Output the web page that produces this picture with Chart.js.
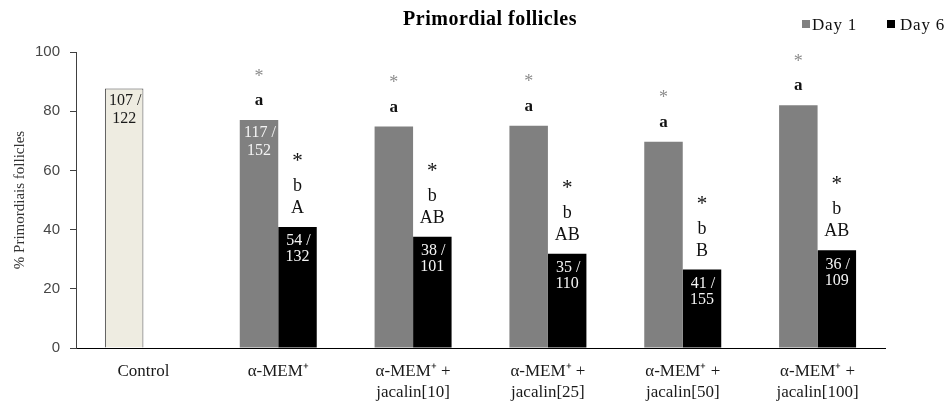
<!DOCTYPE html>
<html>
<head>
<meta charset="utf-8">
<script src="https://cdn.jsdelivr.net/npm/chart.js@4/dist/chart.umd.min.js"></script>
<style>
  html, body { margin: 0; padding: 0; background: #fff; }
  canvas { display: block; }
</style>
</head>
<body>
<canvas id="c" width="951" height="403"></canvas>
<script>
// ---- Data ----
const categories = [
  'Control',
  'α-MEM⁺',
  ['α-MEM⁺ +', 'jacalin[10]'],
  ['α-MEM⁺ +', 'jacalin[25]'],
  ['α-MEM⁺ +', 'jacalin[50]'],
  ['α-MEM⁺ +', 'jacalin[100]']
];
const seriesNames = ['Day 1', 'Day 6'];
const day1Values = [87.7, 77.0, 74.8, 75.1, 69.7, 82.0];
const day6Values = [null, 40.9, 37.6, 31.8, 26.5, 33.0];
const yTicks = [0, 20, 40, 60, 80, 100];

const day1Counts = [['107 /', '122'], ['117 /', '152'], null, null, null, null];
const day6Counts = [null, ['54 /', '132'], ['38 /', '101'], ['35 /', '110'], ['41 /', '155'], ['36 /', '109']];
const day1Stars = ['', '*', '*', '*', '*', '*'];
const day1Letters = ['', 'a', 'a', 'a', 'a', 'a'];
const day6Stars = ['', '*', '*', '*', '*', '*'];
const day6Lower = ['', 'b', 'b', 'b', 'b', 'b'];
const day6Upper = ['', 'A', 'AB', 'AB', 'B', 'AB'];

// ---- Styles ----
const GRAY = '#808080';
const BLACK = '#000000';
const CONTROL_FILL = '#EEECE1';
const SERIF = '"Liberation Serif", "Times New Roman", serif';
const SANS = '"Liberation Sans", Arial, sans-serif';

function drawInk(ctx, text, x, cy) {
  const m = ctx.measureText(text);
  const asc = m.actualBoundingBoxAscent, desc = m.actualBoundingBoxDescent;
  ctx.fillText(text, x, cy + (asc - desc) / 2);
}

const annotatePlugin = {
  id: 'annotate',
  afterDatasetsDraw(chart) {
    const ctx = chart.ctx;
    ctx.save();
    ctx.textAlign = 'center';
    ctx.textBaseline = 'alphabetic';
    const m1 = chart.getDatasetMeta(0).data;
    const m2 = chart.getDatasetMeta(1).data;
    m1.forEach((bar, i) => {
      if (day1Values[i] == null) return;
      const top = bar.y;
      const x = bar.x;
      if (day1Counts[i]) {
        ctx.font = '16px ' + SERIF;
        ctx.fillStyle = i === 0 ? '#1a1a1a' : '#f4f4f4';
        drawInk(ctx, day1Counts[i][0], x + 1, top + 11);
        drawInk(ctx, day1Counts[i][1], x, top + 29);
      }
      if (day1Letters[i]) {
        ctx.font = 'bold 17px ' + SERIF;
        ctx.fillStyle = '#111';
        drawInk(ctx, day1Letters[i], x, top - 19);
      }
      if (day1Stars[i]) {
        ctx.font = '18px ' + SERIF;
        ctx.fillStyle = '#8c8c8c';
        drawInk(ctx, day1Stars[i], x, top - 48);
      }
    });
    m2.forEach((bar, i) => {
      if (day6Values[i] == null) return;
      const top = bar.y;
      const x = bar.x;
      if (day6Counts[i]) {
        ctx.font = '16px ' + SERIF;
        ctx.fillStyle = '#f4f4f4';
        drawInk(ctx, day6Counts[i][0], x + 1, top + 13);
        drawInk(ctx, day6Counts[i][1], x, top + 29);
      }
      ctx.fillStyle = '#111';
      ctx.font = '18px ' + SERIF;
      if (day6Upper[i]) drawInk(ctx, day6Upper[i], x, top - 20.5);
      if (day6Lower[i]) drawInk(ctx, day6Lower[i], x, top - 42.5);
      ctx.font = '21px ' + SERIF;
      if (day6Stars[i]) drawInk(ctx, day6Stars[i], x, top - 70);
    });
    ctx.restore();
  },
  afterDraw(chart) {
    const ctx = chart.ctx;
    ctx.save();
    // Title
    ctx.font = 'bold 20px ' + SERIF;
    ctx.letterSpacing = '0.5px';
    ctx.fillStyle = '#000';
    ctx.textAlign = 'center';
    ctx.textBaseline = 'alphabetic';
    ctx.fillText('Primordial follicles', 490, 25);
    // Legend
    ctx.textAlign = 'left';
    ctx.font = '17px ' + SERIF;
    ctx.letterSpacing = '0.8px';
    const legendColors = [GRAY, BLACK];
    const boxX = [802, 887];
    const textX = [812, 900];
    seriesNames.forEach((name, k) => {
      ctx.fillStyle = legendColors[k];
      ctx.fillRect(boxX[k], 20, 8, 8);
      ctx.fillStyle = '#111';
      ctx.fillText(name, textX[k], 30);
    });
    ctx.restore();
  }
};

new Chart(document.getElementById('c'), {
  type: 'bar',
  data: {
    labels: categories,
    datasets: [
      {
        label: seriesNames[0],
        data: day1Values,
        backgroundColor: day1Values.map((v, i) => i === 0 ? CONTROL_FILL : GRAY),
        borderColor: day1Values.map((v, i) => i === 0 ? '#4a4a4a' : GRAY),
        borderWidth: day1Values.map((v, i) => i === 0 ? 1 : 0),
        categoryPercentage: 0.571,
        barPercentage: 1.0
      },
      {
        label: seriesNames[1],
        data: day6Values,
        backgroundColor: BLACK,
        borderWidth: 0,
        categoryPercentage: 0.571,
        barPercentage: 1.0
      }
    ]
  },
  options: {
    responsive: false,
    animation: false,
    layout: { padding: { top: 52, right: 66, bottom: 0, left: 0 } },
    plugins: {
      legend: { display: false },
      title: { display: false },
      tooltip: { enabled: false }
    },
    scales: {
      x: {
        grid: { display: false, drawTicks: false },
        border: { display: true, color: '#000', width: 1 },
        ticks: {
          color: '#1a1a1a',
          font: { family: SERIF, size: 17, lineHeight: 1.18 },
          padding: 14,
          maxRotation: 0,
          minRotation: 0,
          autoSkip: false
        },
        afterFit(scale) { scale.height = 55; }
      },
      y: {
        min: 0,
        max: 100,
        afterBuildTicks(scale) { scale.ticks = yTicks.map(v => ({ value: v })); },
        ticks: {
          color: '#474747',
          font: { family: SANS, size: 15 },
          padding: 10
        },
        grid: { drawOnChartArea: false, drawTicks: true, tickLength: 6, color: '#404040' },
        border: { display: true, color: '#404040', width: 1 },
        title: {
          display: true,
          text: '% Primordiais follicles',
          color: '#333',
          font: { family: SERIF, size: 15 },
          padding: { top: 11, bottom: 0 }
        },
        afterFit(scale) { scale.width = 76; }
      }
    }
  },
  plugins: [annotatePlugin]
});
</script>
</body>
</html>
